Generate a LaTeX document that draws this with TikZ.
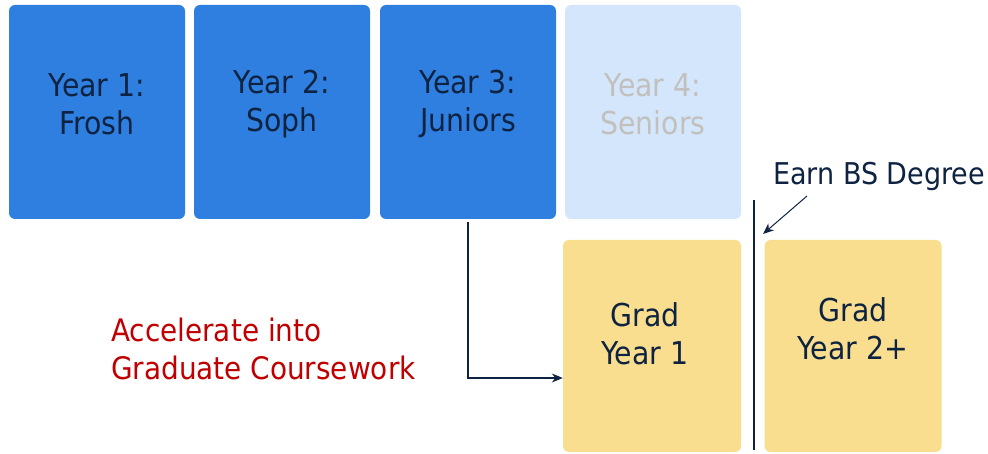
\documentclass[tikz,border=0pt]{standalone}
\usepackage{fontspec}
\setmainfont{DejaVu Sans Condensed}
\usepackage{tikz}
\usetikzlibrary{positioning,arrows.meta}

\definecolor{yearblue}{HTML}{2F7FE0}
\definecolor{paleblue}{HTML}{D4E6FC}
\definecolor{gradgold}{HTML}{F8DE8E}
\definecolor{inkblue}{HTML}{0E2341}
\definecolor{fadegray}{HTML}{C2C0BC}
\definecolor{accred}{HTML}{C00000}

\tikzset{
  yearbox/.style={rectangle, rounded corners=6pt, minimum width=176pt, minimum height=214pt, inner sep=0pt},
  boxtext/.style={align=center, inner sep=0pt, text=inkblue, font=\fontsize{31.5}{38}\selectfont},
  link/.style={draw=inkblue, line width=1.2pt, -{Stealth[length=11pt,width=9pt]}},
}

\begin{document}
\begin{tikzpicture}[x=1pt,y=-1pt]
  \useasboundingbox (0,0) rectangle (988,454);

  % undergraduate years
  \node[yearbox, fill=yearblue] (y1) at (97,112) {};
  \node[yearbox, fill=yearblue] (y2) at (282,112) {};
  \node[yearbox, fill=yearblue] (y3) at (468,112) {};
  \node[yearbox, fill=paleblue] (y4) at (653,112) {};

  \node[boxtext] (t1) at ([yshift=8pt]y1.center) {Year 1:\\Frosh};
  \node[boxtext] (t2) at ([yshift=8pt]y2.center) {Year 2:\\Soph};
  \node[boxtext] (t3) at ([yshift=8pt]y3.center) {Year 3:\\Juniors};
  \node[boxtext, text=fadegray] (t4) at ([yshift=8pt]y4.center) {Year 4:\\Seniors};

  % graduate years
  \node[yearbox, fill=gradgold, minimum width=178pt, minimum height=212pt] (g1) at (652,346) {};
  \node[yearbox, fill=gradgold, minimum width=177pt, minimum height=212pt] (g2) at (853,346) {};

  \node[boxtext] (t5) at ([xshift=-7pt,yshift=12pt]g1.center) {Grad\\Year 1};
  \node[boxtext] (t6) at ([yshift=17pt]g2.center) {Grad\\Year 2+};

  % degree marker
  \coordinate (cuttop) at (754,200);
  \coordinate (cutbot) at (754,450);
  \draw[draw=inkblue, line width=1.3pt] (cuttop) -- (cutbot);

  \node[inner sep=0pt, anchor=west, text=inkblue, font=\fontsize{30}{32}\selectfont] (bs) at (773,176) {Earn BS Degree};
  \coordinate (bstail) at (807,196);
  \coordinate (bshead) at (763,234);
  \draw[link, line width=1pt] (bstail) -- (bshead);

  % acceleration path
  \node[inner sep=0pt, anchor=west, align=left, text=accred, font=\fontsize{31}{38}\selectfont] (acc) at (111,349) {Accelerate into\\Graduate Coursework};
  \draw[link] ([yshift=-3pt]y3.south) |- ([yshift=-32pt]g1.west);
\end{tikzpicture}
\end{document}
